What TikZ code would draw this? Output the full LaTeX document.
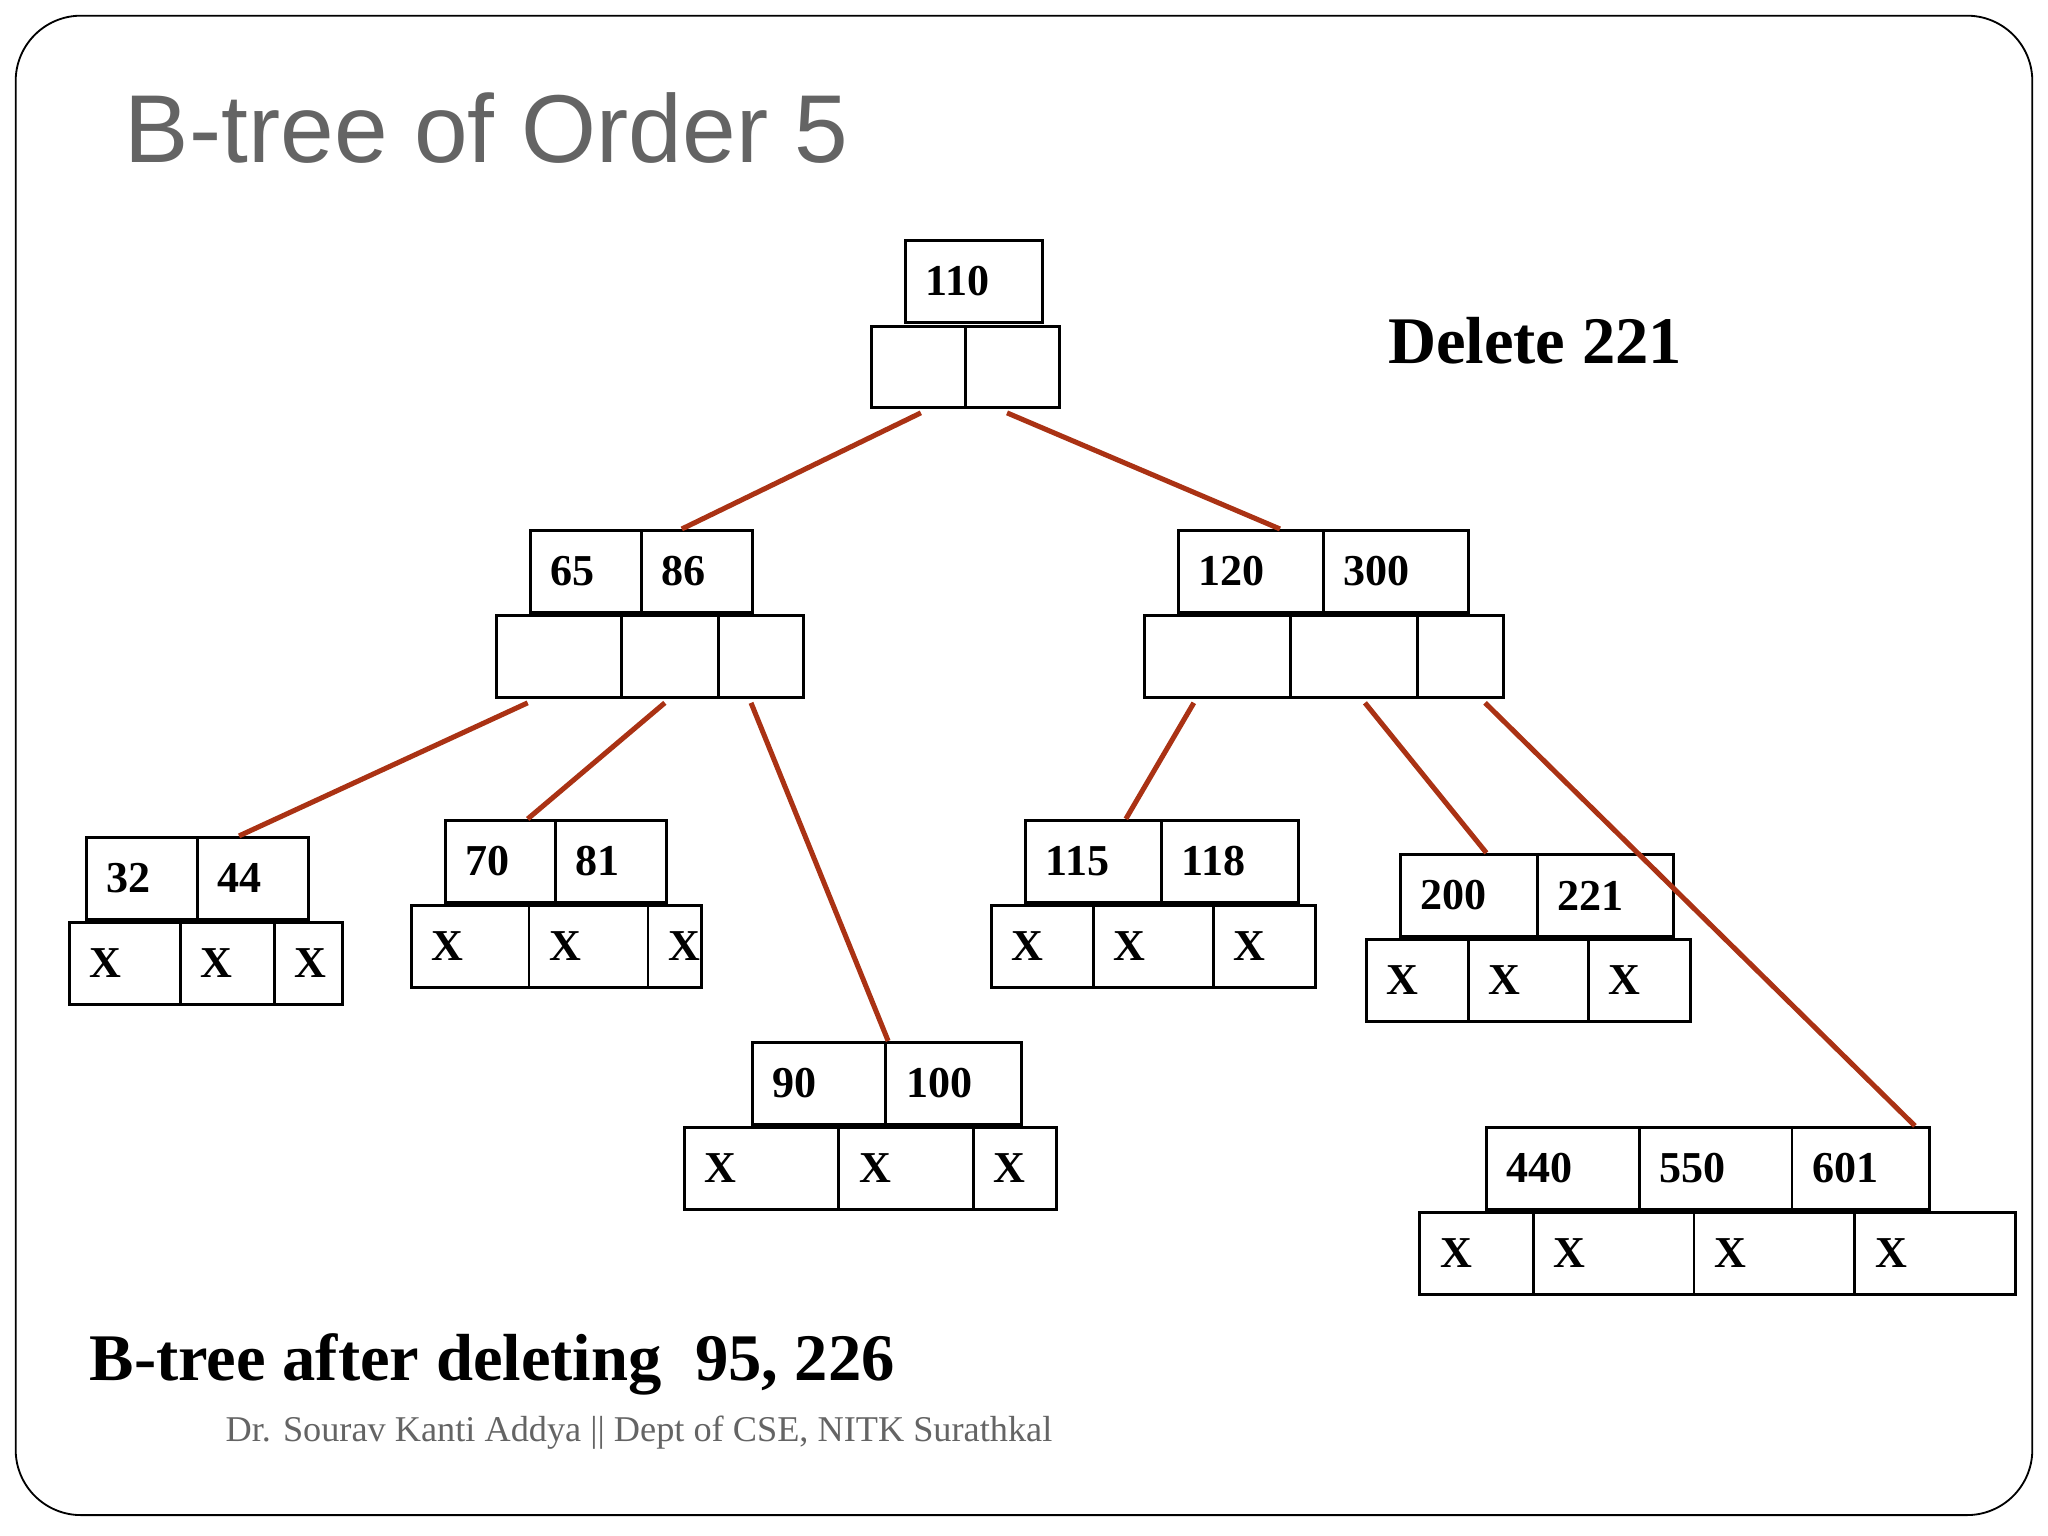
\documentclass[tikz,border=0pt]{standalone}
\usepackage{fontspec}
\setmainfont{Liberation Serif}
\newfontfamily\titlefont{Liberation Sans}
\definecolor{edgec}{RGB}{170,50,20}
\definecolor{titlec}{RGB}{100,100,100}
\tikzset{cellbox/.style={draw,line width=0.6pt,inner sep=0pt,anchor=north west},
 celltxt/.style={anchor=west,inner sep=0pt,font=\bfseries\fontsize{9.6}{10}\selectfont},
 edge/.style={draw=edgec,line width=1.1pt}}
\newcommand\cell[6]{\node[cellbox,minimum width={(#4-#2)*0.01cm},minimum height={(#5-#3)*0.01cm}] (#1) at (#2,#3) {};
 \node[celltxt] (#1t) at ([xshift=0.16cm]#1.west) {#6};}
\begin{document}
\begin{tikzpicture}[x=0.01cm,y=-0.01cm]
\useasboundingbox (0,0) rectangle (1568,1176);
\draw[line width=0.4pt,rounded corners=0.5cm] (12,12) rectangle (1556,1160);
\node[anchor=west,inner sep=0pt,text=titlec,font=\titlefont\fontsize{21}{24}\selectfont] (title) at (95,98) {B-tree of Order 5};
\node[anchor=west,inner sep=0pt,font=\bfseries\fontsize{14.5}{16}\selectfont] (del) at (1062,261) {Delete 221};
\node[anchor=west,inner sep=0pt,font=\bfseries\fontsize{14.5}{16}\selectfont] (cap) at (68,1045) {B-tree after deleting\ \ 95, 226};
\node[anchor=west,inner sep=0pt,text=titlec,font=\fontsize{7.9}{9}\selectfont] (foot) at (172,1097) {Dr. Sourav Kanti Addya || Dept of CSE, NITK Surathkal};
% root
\cell{r1}{692}{183}{797}{246}{110}
\cell{rb1}{666}{249}{738}{311}{}
\cell{rb2}{738}{249}{810}{311}{}
% left internal
\cell{l1}{405}{405}{490}{468}{65}
\cell{l2}{490}{405}{575}{468}{86}
\cell{lb1}{379}{470}{475}{533}{}
\cell{lb2}{475}{470}{549}{533}{}
\cell{lb3}{549}{470}{614}{533}{}
% right internal
\cell{m1}{901}{405}{1012}{468}{120}
\cell{m2}{1012}{405}{1123}{468}{300}
\cell{mb1}{875}{470}{987}{533}{}
\cell{mb2}{987}{470}{1084}{533}{}
\cell{mb3}{1084}{470}{1150}{533}{}
% leaf A
\cell{a1}{65}{640}{150}{703}{32}
\cell{a2}{150}{640}{235}{703}{44}
\cell{ab1}{52}{705}{137}{768}{X}
\cell{ab2}{137}{705}{209}{768}{X}
\cell{ab3}{209}{705}{261}{768}{X}
% leaf B
\cell{b1}{340}{627}{424}{690}{70}
\cell{b2}{424}{627}{509}{690}{81}
\cell{bb1}{314}{692}{404}{755}{X}
\cell{bb2}{404}{692}{495}{755}{X}
\cell{bb3}{495}{692}{536}{755}{X}
% leaf C
\cell{c1}{575}{797}{677}{860}{90}
\cell{c2}{677}{797}{781}{860}{100}
\cell{cb1}{523}{862}{641}{925}{X}
\cell{cb2}{641}{862}{744}{925}{X}
\cell{cb3}{744}{862}{808}{925}{X}
% leaf D
\cell{d1}{784}{627}{888}{690}{115}
\cell{d2}{888}{627}{993}{690}{118}
\cell{db1}{758}{692}{836}{755}{X}
\cell{db2}{836}{692}{928}{755}{X}
\cell{db3}{928}{692}{1006}{755}{X}
% leaf E
\cell{e1}{1071}{653}{1176}{716}{200}
\cell{e2}{1176}{653}{1280}{716}{221}
\cell{eb1}{1045}{718}{1123}{781}{X}
\cell{eb2}{1123}{718}{1215}{781}{X}
\cell{eb3}{1215}{718}{1293}{781}{X}
% leaf F
\cell{f1}{1137}{862}{1254}{925}{440}
\cell{f2}{1254}{862}{1371}{925}{550}
\cell{f3}{1371}{862}{1476}{925}{601}
\cell{fb1}{1086}{927}{1173}{990}{X}
\cell{fb2}{1173}{927}{1296}{990}{X}
\cell{fb3}{1296}{927}{1419}{990}{X}
\cell{fb4}{1419}{927}{1542}{990}{X}
% edges
\draw[edge] ([xshift=0.39cm,yshift=-0.03cm]rb1.south west) -- ([xshift=0.32cm]l2.north west);
\draw[edge] ([xshift=0.33cm,yshift=-0.03cm]rb2.south west) -- ([xshift=-0.32cm]m2.north west);
\draw[edge] ([xshift=0.25cm,yshift=-0.03cm]lb1.south west) -- ([xshift=0.33cm]a2.north west);
\draw[edge] ([xshift=0.34cm,yshift=-0.03cm]lb2.south west) -- ([xshift=-0.2cm]b2.north west);
\draw[edge] ([xshift=0.26cm,yshift=-0.03cm]lb3.south west) -- ([xshift=0.03cm]c2.north west);
\draw[edge] ([xshift=0.39cm,yshift=-0.03cm]mb1.south west) -- ([xshift=-0.26cm]d2.north west);
\draw[edge] ([xshift=0.58cm,yshift=-0.03cm]mb2.south west) -- ([xshift=0.67cm]e1.north west);
\draw[edge] ([xshift=0.53cm,yshift=-0.03cm]mb3.south west) -- ([xshift=-0.12cm]f3.north east);
\end{tikzpicture}
\end{document}
